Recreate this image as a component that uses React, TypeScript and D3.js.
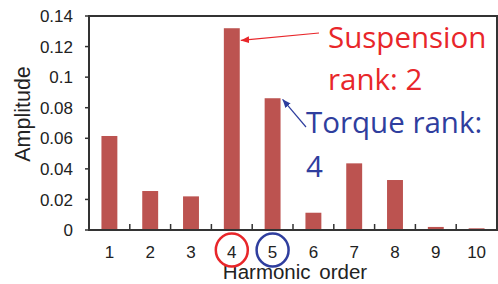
import React from "react";
import * as d3 from "d3";

const categories = ["1", "2", "3", "4", "5", "6", "7", "8", "9", "10"];
const amplitudes = [0.0615, 0.0255, 0.022, 0.132, 0.0862, 0.0113, 0.0436, 0.0327, 0.002, 0.0011];
const yTicks = [0, 0.02, 0.04, 0.06, 0.08, 0.1, 0.12, 0.14];
const yTickLabels = ["0", "0.02", "0.04", "0.06", "0.08", "0.1", "0.12", "0.14"];

const W = 498, H = 284;
const M = { left: 89, right: 1, top: 16, bottom: 54 };

export default function App() {
  const x = d3.scaleBand<string>().domain(categories).range([M.left, W - M.right]).paddingInner(0.61).paddingOuter(0.305);
  const y = d3.scaleLinear().domain([0, 0.14]).range([H - M.bottom, M.top]);
  const step = x.step();
  const x0 = M.left, x1 = W - M.right, y0 = y(0), y1 = y(0.14);
  const cx = (c: string) => (x(c) as number) + x.bandwidth() / 2;
  const font = "'Liberation Sans', Arial, sans-serif";
  const red = "#E8262A", blue = "#2F3E9E";
  return (
    <svg width={W} height={H} style={{ position: "absolute", left: 0, top: 0 }}>
      <defs>
        <marker id="ar" viewBox="0 0 10 10" refX="10" refY="5" markerWidth="7" markerHeight="7" orient="auto">
          <path d="M0,1 L10,5 L0,9 Z" fill={red} />
        </marker>
        <marker id="ab" viewBox="0 0 10 10" refX="10" refY="5" markerWidth="7" markerHeight="7" orient="auto">
          <path d="M0,1 L10,5 L0,9 Z" fill={blue} />
        </marker>
      </defs>
      <rect x={0} y={0} width={W} height={H} fill="#fff" />
      {categories.map((c, i) => (
        <rect key={c} x={x(c)} y={y(amplitudes[i])} width={x.bandwidth()} height={y0 - y(amplitudes[i])} fill="#BC5350" />
      ))}
      {categories.slice(1).map((c, i) => {
        const xb = M.left + step * (i + 1);
        return <line key={"m" + c} x1={xb} x2={xb} y1={y0} y2={y0 - 6} stroke="#333" strokeWidth={1.5} />;
      })}
      {yTicks.map((t) => (
        <line key={"yt" + t} x1={x0 - 4} x2={x0} y1={y(t)} y2={y(t)} stroke="#333" strokeWidth={1.5} />
      ))}
      <rect x={x0} y={y1} width={x1 - x0} height={y0 - y1} fill="none" stroke="#333" strokeWidth={2} />
      {yTicks.map((t, i) => (
        <text key={"yl" + t} x={73} y={y(t)} dy="0.36em" textAnchor="end" fontFamily={font} fontSize={17} fill="#222">
          {yTickLabels[i]}
        </text>
      ))}
      {categories.map((c) => (
        <text key={"xl" + c} x={cx(c)} y={258} textAnchor="middle" fontFamily={font} fontSize={17} fill="#222">
          {c}
        </text>
      ))}
      <text x={295} y={279} textAnchor="middle" fontFamily={font} fontSize={20.5} fill="#222" wordSpacing={3}>
        Harmonic order
      </text>
      <text transform={`translate(30,${114}) rotate(-90)`} textAnchor="middle" fontFamily={font} fontSize={21.5} fill="#222">
        Amplitude
      </text>
      <ellipse cx={cx("4")} cy={250} rx={16} ry={16.5} fill="none" stroke={red} strokeWidth={2.5} />
      <ellipse cx={cx("5")} cy={250} rx={16} ry={16.5} fill="none" stroke={blue} strokeWidth={2.5} />
      <line x1={319} y1={33} x2={(x("4") as number) + x.bandwidth() + 1} y2={y(0.124)} stroke={red} strokeWidth={1.2} markerEnd="url(#ar)" />
      <line x1={306} y1={127} x2={(x("5") as number) + x.bandwidth() + 2} y2={y(0.0855)} stroke={blue} strokeWidth={1.2} markerEnd="url(#ab)" />
      <text x={328} y={48} fontFamily="'Open Sans', sans-serif" fontSize={29.5} fill={red}>Suspension</text>
      <text x={328} y={90} fontFamily="'Open Sans', sans-serif" fontSize={29.5} fill={red}>rank: 2</text>
      <text x={306} y={133} fontFamily="'Open Sans', sans-serif" fontSize={29.5} fill={blue}>Torque rank:</text>
      <text x={306} y={177} fontFamily="'Open Sans', sans-serif" fontSize={29.5} fill={blue}>4</text>
    </svg>
  );
}
